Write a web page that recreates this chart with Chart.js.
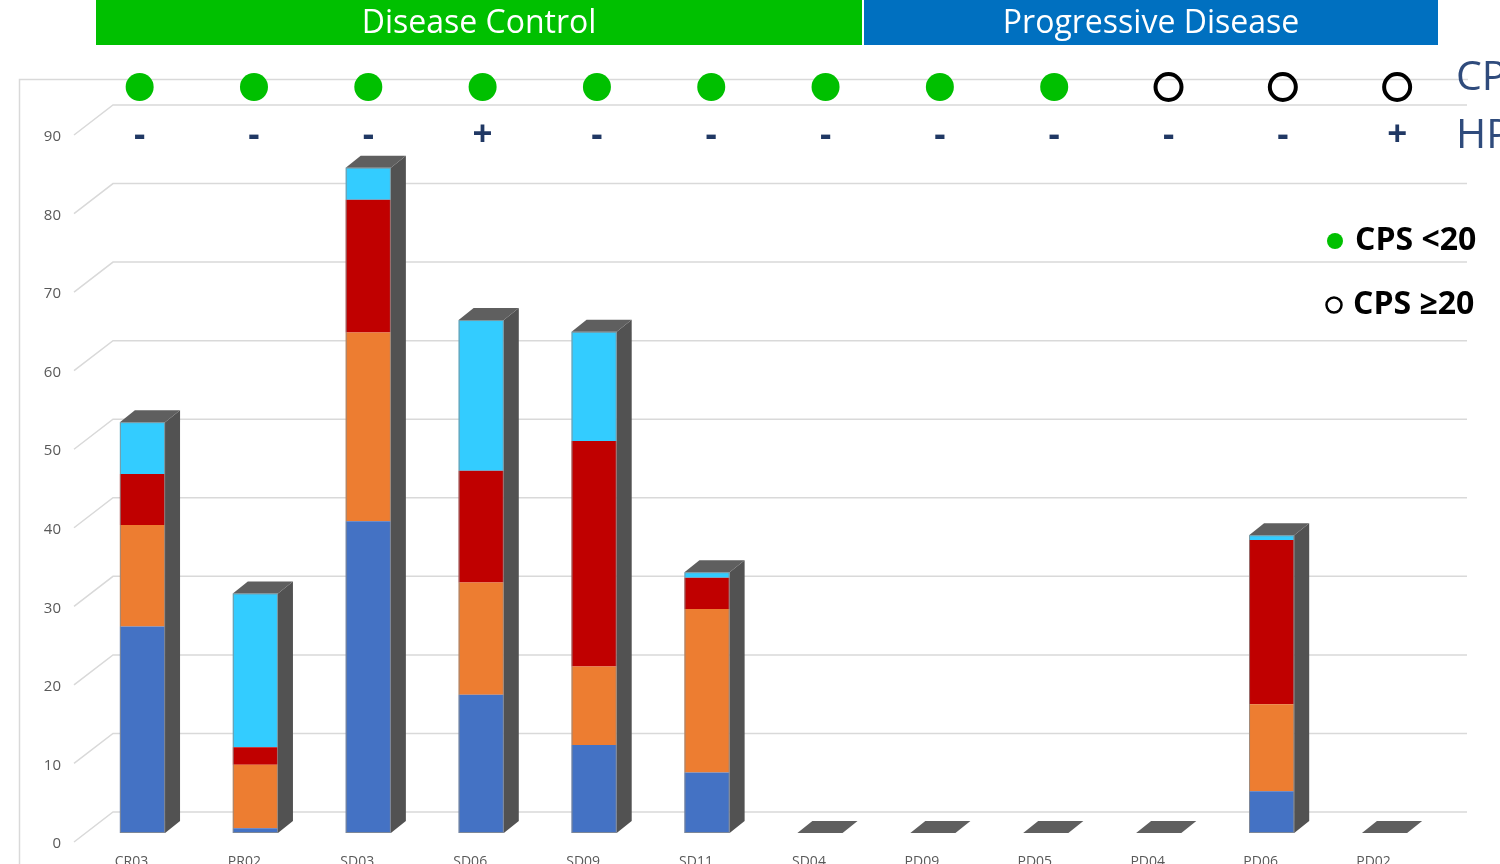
<!DOCTYPE html>
<html>
<head>
<meta charset="utf-8">
<script src="https://cdn.jsdelivr.net/npm/chart.js@4/dist/chart.umd.min.js"></script>
<style>
  html, body { margin: 0; padding: 0; background: #fff; overflow: hidden; }
  #wrap { position: relative; width: 1500px; height: 864px; }
</style>
</head>
<body>
<div id="wrap"><canvas id="grafica"></canvas></div>
<script>
// ===============================
// DATOS
// ===============================
const pacientes = ["CR03", "PR02", "SD03", "SD06", "SD09", "SD11", "SD04", "PD09", "PD05", "PD04", "PD06", "PD02"];
const serieAzul    = [26.3, 0.6, 39.7, 17.6, 11.2, 7.7, 0, 0, 0, 0, 5.3, 0];
const serieNaranja = [12.9, 8.1, 24.0, 14.3, 10.0, 20.8, 0, 0, 0, 0, 11.1, 0];
const serieRoja    = [6.5, 2.2, 16.9, 14.2, 28.7, 4.0, 0, 0, 0, 0, 20.9, 0];
const serieCian    = [6.6, 19.6, 4.1, 19.2, 13.9, 0.7, 0, 0, 0, 0, 0.6, 0];
const ticksY = [0, 10, 20, 30, 40, 50, 60, 70, 80, 90];
// CPS: true = <20 (punto verde), false = >=20 (círculo vacío)
const cpsBajo = [true, true, true, true, true, true, true, true, true, false, false, false];
const hpv = ["-", "-", "-", "+", "-", "-", "-", "-", "-", "-", "-", "+"];

// ===============================
// COLORES
// ===============================
const colores = {
    azul: "#4472C4",
    naranja: "#ED7D31",
    roja: "#C00000",
    cian: "#33CCFF",
    lado: "#525252",
    tapa: "#5F5F5F",
    rejilla: "#D9D9D9",
    texto: "#595959",
    marino: "#203864"
};
const FUENTE = "'Open Sans', 'Noto Sans', sans-serif";

// profundidad de las barras 3D
const PROF_X = 15, PROF_Y = 12;

// ===============================
// PLUGIN 3D + ANOTACIONES
// ===============================
const efecto3D = {
    id: "efecto3D",
    beforeDatasetsDraw(chart) {
        const { ctx, chartArea, scales: { y, x } } = chart;
        ctx.save();
        // marco exterior
        ctx.strokeStyle = colores.rejilla;
        ctx.lineWidth = 1.5;
        ctx.beginPath();
        ctx.moveTo(19.5, 864);
        ctx.lineTo(19.5, 79.5);
        ctx.lineTo(1468, 79.5);
        ctx.stroke();

        // rejilla en la pared trasera + diagonales
        ctx.font = "15px " + FUENTE;
        ctx.fillStyle = colores.texto;
        ctx.textAlign = "right";
        ctx.textBaseline = "middle";
        ticksY.forEach(v => {
            const yp = y.getPixelForValue(v);
            const yAtras = yp - 21;
            const yFrente = yp + 9;
            ctx.beginPath();
            ctx.moveTo(chartArea.left - 12, yFrente);
            ctx.lineTo(chartArea.left + 27, yAtras);
            ctx.lineTo(1467, yAtras);
            ctx.stroke();
            ctx.fillText(String(v), 61, yFrente + 2);
        });

        // etiquetas del eje x
        ctx.font = "14px " + FUENTE;
        ctx.textAlign = "center";
        ctx.textBaseline = "top";
        pacientes.forEach((p, i) => {
            ctx.fillText(p, x.getPixelForValue(i) - 11, 855);
        });
        ctx.restore();
    },
    afterDatasetsDraw(chart) {
        const { ctx } = chart;
        const metas = chart.getSortedVisibleDatasetMetas();
        ctx.save();
        pacientes.forEach((p, i) => {
            const barras = metas.map(m => m.data[i].getProps(["x", "y", "base", "width"], true));
            const b0 = barras[0];
            const izq = b0.x - b0.width / 2;
            const der = b0.x + b0.width / 2;
            const abajo = b0.base;
            const arriba = Math.min(...barras.map(b => Math.min(b.y, b.base)));
            // cara lateral
            ctx.fillStyle = colores.lado;
            ctx.beginPath();
            ctx.moveTo(der, arriba);
            ctx.lineTo(der + PROF_X, arriba - PROF_Y);
            ctx.lineTo(der + PROF_X, abajo - PROF_Y);
            ctx.lineTo(der, abajo);
            ctx.closePath();
            ctx.fill();
            // tapa
            ctx.fillStyle = colores.tapa;
            ctx.beginPath();
            ctx.moveTo(izq, arriba);
            ctx.lineTo(izq + PROF_X, arriba - PROF_Y);
            ctx.lineTo(der + PROF_X, arriba - PROF_Y);
            ctx.lineTo(der, arriba);
            ctx.closePath();
            ctx.fill();
            // contorno frontal
            if (abajo - arriba > 1) {
                ctx.strokeStyle = "rgba(140,140,140,0.8)";
                ctx.lineWidth = 1;
                ctx.strokeRect(izq + 0.5, arriba + 0.5, der - izq - 1, abajo - arriba - 1);
            }
        });
        ctx.restore();
    },
    afterDraw(chart) {
        const { ctx, scales: { x } } = chart;
        ctx.save();
        // cabeceras
        ctx.fillStyle = "#00C000";
        ctx.fillRect(96, 0, 766, 45);
        ctx.fillStyle = "#0070C0";
        ctx.fillRect(864, 0, 574, 45);
        ctx.fillStyle = "#fff";
        ctx.font = "32px " + FUENTE;
        ctx.textAlign = "center";
        ctx.textBaseline = "middle";
        ctx.fillText("Disease Control", 479, 24);
        ctx.fillText("Progressive Disease", 1151, 24);

        // fila CPS y fila HPV (la fila de la tabla se abre un poco respecto a las barras)
        pacientes.forEach((p, i) => {
            const cx = x.getPixelForValue(i) + (i - 2) * 1.4;
            ctx.beginPath();
            if (cpsBajo[i]) {
                ctx.fillStyle = "#00C000";
                ctx.arc(cx, 87, 14, 0, Math.PI * 2);
                ctx.fill();
            } else {
                ctx.strokeStyle = "#000";
                ctx.lineWidth = 4;
                ctx.arc(cx, 87, 13, 0, Math.PI * 2);
                ctx.stroke();
            }
            ctx.fillStyle = colores.marino;
            ctx.font = "bold 35px " + FUENTE;
            ctx.fillText(hpv[i], cx, 136);
        });

        // rótulos cortados a la derecha
        ctx.fillStyle = "#2F4B7C";
        ctx.font = "41px " + FUENTE;
        ctx.textAlign = "left";
        ctx.textBaseline = "alphabetic";
        ctx.fillText("CPS", 1456, 90);
        ctx.fillText("HPV", 1456, 148);

        // leyenda CPS
        ctx.fillStyle = "#00C000";
        ctx.beginPath();
        ctx.arc(1335, 241, 8, 0, Math.PI * 2);
        ctx.fill();
        ctx.strokeStyle = "#000";
        ctx.lineWidth = 2.5;
        ctx.beginPath();
        ctx.arc(1334, 305, 7.5, 0, Math.PI * 2);
        ctx.stroke();
        ctx.fillStyle = "#000";
        ctx.font = "bold 32px " + FUENTE;
        ctx.textBaseline = "middle";
        ctx.fillText("CPS <20", 1355, 241);
        ctx.fillText("CPS \u226520", 1353, 305);
        ctx.restore();
    }
};

// ===============================
// GRÁFICA: BARRAS APILADAS
// ===============================
new Chart(document.getElementById("grafica"), {
    type: "bar",
    data: {
        labels: pacientes,
        datasets: [
            { label: "Serie 1", data: serieAzul,    backgroundColor: colores.azul },
            { label: "Serie 2", data: serieNaranja, backgroundColor: colores.naranja },
            { label: "Serie 3", data: serieRoja,    backgroundColor: colores.roja },
            { label: "Serie 4", data: serieCian,    backgroundColor: colores.cian }
        ]
    },
    options: {
        responsive: true,
        maintainAspectRatio: false,
        animation: false,
        layout: { padding: { left: 86, right: 59, top: 126, bottom: 31 } },
        datasets: { bar: { categoryPercentage: 1, barPercentage: 0.4, borderWidth: 0 } },
        plugins: { legend: { display: false }, tooltip: { enabled: false } },
        scales: {
            x: { stacked: true, display: false },
            y: { stacked: true, display: false, min: 0, max: 90 }
        }
    },
    plugins: [efecto3D]
});
</script>
</body>
</html>
